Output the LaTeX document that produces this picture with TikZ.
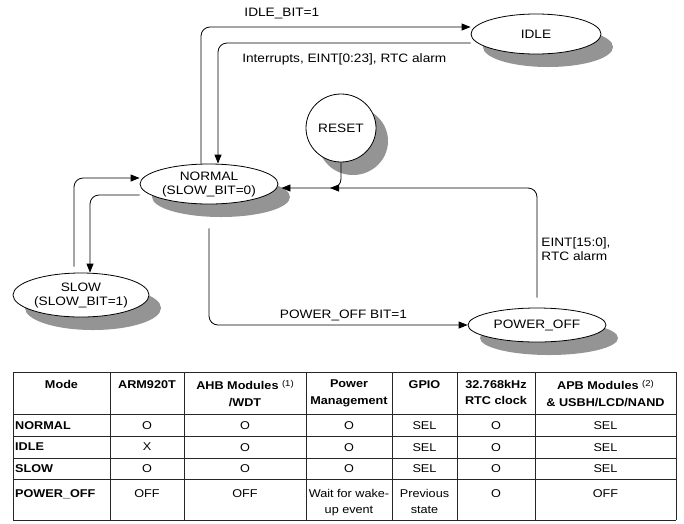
\documentclass[tikz,border=0pt]{standalone}
\usepackage{fontspec}
\setmainfont{Liberation Sans}[FakeStretch=1.12]
\usetikzlibrary{arrows.meta, shapes.geometric, shadows}
\colorlet{shadowcolor}{black!42}
\newcommand{\notemark}[1]{\raisebox{3.5pt}{\mdseries\fontsize{8.5}{8.5}\selectfont(#1)}}
\tikzset{
    state/.style = {ellipse, draw, line width=0.8pt, fill=white, inner sep=0pt, align=center,
        font=\fontsize{12.2}{14}\selectfont,
        drop shadow={shadow xshift=12pt, shadow yshift=-13pt, fill=shadowcolor, opacity=1}},
    trans/.style = {line width=0.8pt, rounded corners=9pt, -{Triangle[length=9pt, width=7pt]}},
    trans label/.style = {font=\fontsize{12.2}{14}\selectfont, inner sep=2pt},
    table line/.style = {line width=0.8pt, draw=black!85},
    head text/.style = {anchor=north, inner sep=0pt, align=center, font=\fontsize{11.3}{16.5}\selectfont\bfseries},
    cell text/.style = {anchor=north, inner sep=0pt, align=center, font=\fontsize{11.3}{16.5}\selectfont}
}

\begin{document}
\begin{tikzpicture}[x=1pt, y=-1pt]
    \useasboundingbox (0,0) rectangle (684,523);
    % states
    \node[state, minimum width=130pt, minimum height=40pt] (idle) at (536,34) {IDLE};
    \node[state, minimum width=70pt, minimum height=68pt] (reset) at (341,128) {RESET};
    \node[state, minimum width=138pt, minimum height=40pt] (normal) at (209,184) {NORMAL\\(SLOW\_BIT=0)};
    \node[state, minimum width=136pt, minimum height=44pt] (slow) at (81,295) {SLOW\\(SLOW\_BIT=1)};
    \node[state, minimum width=138pt, minimum height=34pt] (poweroff) at (537,325) {POWER\_OFF};
    \coordinate (wakeup) at (330,188);
    % transitions
    \draw[trans] ([xshift=-8pt]normal.north) |- node[trans label, pos=.65, above=6pt]{IDLE\_BIT=1} ([yshift=7pt]idle.west);
    \draw[trans] ([yshift=-9pt]idle.west) -| node[trans label, pos=.25, below=8pt]{Interrupts, EINT[0:23], RTC alarm} ([xshift=9pt]normal.north);
    \draw[trans] (reset.south) |- ([xshift=3pt, yshift=-4pt]normal.east);
    \draw[trans] ([yshift=10pt]poweroff.north) |- node[trans label, pos=.22, right=2pt, align=left]{EINT[15:0],\\RTC alarm} (wakeup);
    \draw[trans] ([yshift=-24pt]normal.south) |- node[trans label, pos=.76, above=2pt]{POWER\_OFF BIT=1} (poweroff.west);
    \draw[trans] ([yshift=-11pt]normal.west) -| ([xshift=9pt]slow.north);
    \draw[trans] ([xshift=-7pt, yshift=6pt]slow.north) |- ([yshift=6pt]normal.west);
    % mode table
    \foreach \y in {372,414,436,458,479,520}
        \draw[table line] (13,\y) -- (676,\y);
    \foreach \x in {13,110,184,306,392,457,535,676}
        \draw[table line] (\x,372) -- (\x,520);
    \foreach \x/\txt [count=\i] in {61.5/Mode, 147/ARM920T, 245/{AHB Modules \notemark{1}\\/WDT},
            349/{Power\\Management}, 424.5/GPIO, 496/{32.768kHz\\RTC clock},
            605.5/{APB Modules \notemark{2}\\\& USBH/LCD/NAND}}
        \node[head text] (head\i) at (\x,380) {\txt};
    \foreach \y/\modename/\arm/\ahb/\pwr/\gpio/\rtc/\apb [count=\r] in {
            421/NORMAL/O/O/O/SEL/O/SEL,
            443/IDLE/X/O/O/SEL/O/SEL,
            464/SLOW/O/O/O/SEL/O/SEL,
            489/POWER\_OFF/OFF/OFF/{Wait for wake-\\up event}/{Previous\\state}/O/OFF}
    {
        \node[head text, anchor=north west] (mode\r) at (15,\y) {\modename};
        \node[cell text] (arm\r) at (147,\y) {\arm};
        \node[cell text] (ahb\r) at (245,\y) {\ahb};
        \node[cell text] (pwr\r) at (349,\y) {\pwr};
        \node[cell text] (gpio\r) at (424.5,\y) {\gpio};
        \node[cell text] (rtc\r) at (496,\y) {\rtc};
        \node[cell text] (apb\r) at (605.5,\y) {\apb};
    }
\end{tikzpicture}
\end{document}
